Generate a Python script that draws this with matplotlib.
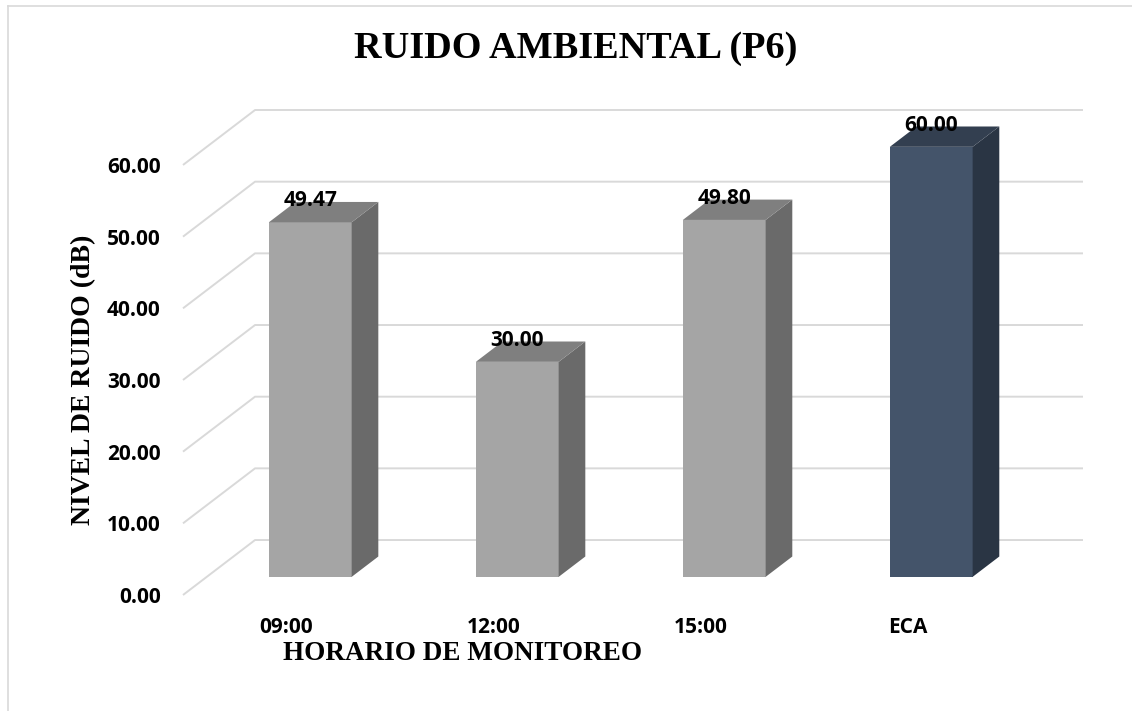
import matplotlib
matplotlib.use("Agg")
import matplotlib.pyplot as plt
from matplotlib.patches import Polygon
from matplotlib.lines import Line2D

# ---- data ----
categories = ["09:00", "12:00", "15:00", "ECA"]
values = [49.47, 30.00, 49.80, 60.00]
yticks = [0, 10, 20, 30, 40, 50, 60]
ytick_labels = [f"{t:.2f}" for t in yticks]

title = "RUIDO AMBIENTAL (P6)"
ylabel = "NIVEL DE RUIDO (dB)"
xlabel = "HORARIO DE MONITOREO"

# ---- style ----
front_colors = ["#A5A5A5", "#A5A5A5", "#A5A5A5", "#44546A"]
top_colors = ["#7F7F7F", "#7F7F7F", "#7F7F7F", "#333F50"]
side_colors = ["#6A6A6A", "#6A6A6A", "#6A6A6A", "#2A3544"]
grid_color = "#D9D9D9"
num_font = "Open Sans"
serif_font = "Liberation Serif"

W, H = 1132, 711
fig = plt.figure(figsize=(W / 100, H / 100), dpi=100)
fig.patch.set_facecolor("white")

# axes covers front-left corner to back-right corner of the 3D box
left_px, right_px, bottom_px, top_px = 183, 1083, 595, 110
ax = fig.add_axes([left_px / W, 1 - bottom_px / H,
                   (right_px - left_px) / W, (bottom_px - top_px) / H])

n = len(categories)
DX = 0.348   # depth offset in category units
DY = 7.67    # depth offset in value units
ymax = yticks[-1]
ax.set_xlim(-0.5, n - 0.5 + DX)
ax.set_ylim(0, ymax + DY)
for s in ax.spines.values():
    s.set_visible(False)

# gridlines: side wall diagonal + back wall horizontal
for t in yticks:
    ax.plot([-0.5, -0.5 + DX, n - 0.5 + DX], [t, t + DY, t + DY],
            color=grid_color, lw=1.4, clip_on=False, zorder=1,
            solid_capstyle="butt")

# bars
w = 0.40
f1, f2 = 0.33, 0.70
ddx, ddy = (f2 - f1) * DX, (f2 - f1) * DY
b = f1 * DY
for i, v in enumerate(values):
    xc = i + f1 * DX
    ax.bar(xc, v, width=w, bottom=b, color=front_colors[i], zorder=3,
           linewidth=0)
    x0, x1 = xc - w / 2, xc + w / 2
    side = Polygon([(x1, b), (x1 + ddx, b + ddy), (x1 + ddx, b + v + ddy),
                    (x1, b + v)], closed=True, facecolor=side_colors[i],
                   edgecolor="none", zorder=3, clip_on=False)
    top = Polygon([(x0, b + v), (x1, b + v), (x1 + ddx, b + v + ddy),
                   (x0 + ddx, b + v + ddy)], closed=True,
                  facecolor=top_colors[i], edgecolor="none", zorder=3,
                  clip_on=False)
    ax.add_patch(side)
    ax.add_patch(top)
    ax.annotate(f"{v:.2f}", (xc, b + v + ddy), xytext=(0, 1),
                textcoords="offset points", ha="center", va="center",
                fontsize=15, fontweight="bold", family=num_font,
                color="black", zorder=5, annotation_clip=False)

# ticks
ax.set_yticks(yticks, labels=ytick_labels)
ax.set_xticks(range(n), labels=categories)
ax.tick_params(axis="y", length=0, pad=16, labelsize=15)
ax.tick_params(axis="x", length=0, pad=16, labelsize=15)
for lab in ax.get_yticklabels() + ax.get_xticklabels():
    lab.set_fontfamily(num_font)
    lab.set_fontweight("bold")

# titles / labels
fig.text(576 / W, 1 - 49 / H, title, ha="center", va="center",
         fontsize=27.5, fontweight="bold", family=serif_font)
fig.text(84 / W, 1 - 380 / H, ylabel, ha="center", va="center",
         rotation=90, fontsize=20, fontweight="bold", family=serif_font)
fig.text(463 / W, 1 - 653 / H, xlabel, ha="center", va="center",
         fontsize=19.5, fontweight="bold", family=serif_font)

# chart border (top and left visible)
fig.add_artist(Line2D([8 / W, 8 / W], [0, 1 - 6 / H], color=grid_color,
                      lw=1.2, transform=fig.transFigure))
fig.add_artist(Line2D([8 / W, 1], [1 - 6 / H, 1 - 6 / H], color=grid_color,
                      lw=1.2, transform=fig.transFigure))

fig.savefig("out.png", dpi=100, facecolor="white")
